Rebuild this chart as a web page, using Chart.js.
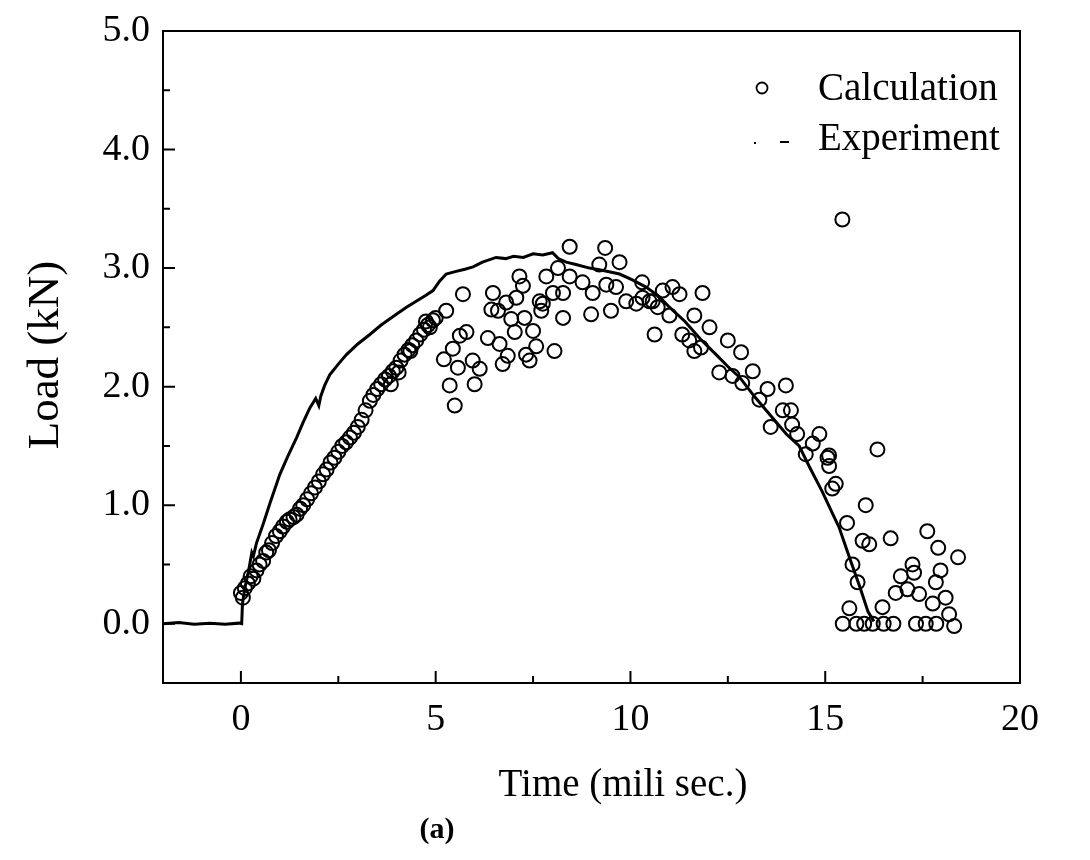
<!DOCTYPE html>
<html><head><meta charset="utf-8">
<script src="https://cdn.jsdelivr.net/npm/chart.js@4.4.0/dist/chart.umd.min.js"></script>
<style>html,body{margin:0;padding:0;background:#fff}#wrap{width:1090px;height:860px}</style>
</head><body><div id="wrap"><canvas id="c" width="1090" height="860"></canvas></div>
<script>
// ---- data ----
const expTime = [-2.0,-1.6,-1.2,-0.8,-0.4,-0.05,0.02,0.04,0.10,0.20,0.28,0.32,0.40,0.57,0.75,1.00,1.20,1.43,1.60,1.77,1.92,2.00,2.05,2.15,2.28,2.50,2.71,3.00,3.31,3.60,3.99,4.25,4.50,4.75,4.93,5.10,5.27,5.50,5.75,5.96,6.20,6.55,6.80,7.00,7.25,7.50,7.75,8.00,8.15,8.35,8.60,8.95,9.30,9.72,10.05,10.40,10.74,11.00,11.40,11.80,12.20,12.50,12.80,13.20,13.64,14.00,14.33,14.60,14.93,15.20,15.36,15.62,15.90,16.10,16.25];
const expLoad = [0.00,0.01,-0.005,0.005,-0.005,0.005,0.00,0.17,0.30,0.45,0.60,0.57,0.68,0.84,1.02,1.26,1.41,1.57,1.70,1.82,1.90,1.84,1.92,2.01,2.10,2.19,2.27,2.36,2.44,2.52,2.61,2.67,2.72,2.77,2.81,2.89,2.95,2.97,2.99,3.01,3.05,3.09,3.08,3.10,3.09,3.12,3.11,3.13,3.08,3.05,3.03,3.00,2.98,2.95,2.90,2.84,2.76,2.67,2.55,2.40,2.27,2.17,2.08,1.91,1.74,1.60,1.50,1.32,1.11,0.92,0.81,0.56,0.30,0.10,0.02];

const calcTime = [0.00,0.05,0.10,0.18,0.25,0.32,0.40,0.48,0.57,0.65,0.72,0.80,0.90,1.00,1.08,1.18,1.25,1.35,1.43,1.52,1.60,1.70,1.80,1.90,2.00,2.11,2.20,2.30,2.40,2.50,2.60,2.70,2.80,2.90,3.00,3.10,3.20,3.31,3.40,3.50,3.60,3.70,3.80,3.90,3.99,4.10,4.20,4.30,4.40,4.50,4.60,4.70,4.80,4.93,5.00,4.75,4.85,3.85,4.05,4.35,
5.21,5.27,5.36,5.44,5.49,5.57,5.62,5.70,5.79,5.95,6.00,6.13,6.34,6.43,6.47,6.60,6.64,6.72,6.81,6.85,6.94,7.03,7.07,7.15,7.24,7.28,7.32,7.41,7.50,7.58,7.67,7.71,7.75,7.84,8.01,8.05,8.14,8.27,8.27,8.44,8.44,8.77,8.99,9.03,9.20,9.35,9.38,9.50,9.63,9.72,9.89,10.15,10.31,10.57,10.62,
10.30,10.49,10.70,10.83,11.00,11.08,11.26,11.33,11.51,11.64,11.64,11.81,11.85,12.03,12.28,12.50,12.62,12.84,12.87,13.14,13.31,13.52,13.60,13.91,13.99,14.12,14.15,14.28,14.50,14.68,14.85,15.06,15.10,15.10,15.18,15.27,
15.44,15.56,15.70,15.83,15.62,16.04,15.96,16.13,16.34,16.68,16.47,16.81,16.94,17.11,17.24,17.28,17.41,17.62,17.76,17.84,17.90,17.96,18.09,18.18,18.41,18.31,
15.45,15.80,16.00,16.22,16.50,16.75,17.33,17.58,17.85];
const calcLoad = [0.26,0.22,0.30,0.34,0.40,0.38,0.45,0.50,0.53,0.60,0.62,0.68,0.74,0.78,0.82,0.86,0.88,0.90,0.92,0.97,1.00,1.05,1.10,1.15,1.20,1.26,1.30,1.36,1.40,1.45,1.50,1.53,1.57,1.61,1.66,1.72,1.80,1.88,1.93,1.98,2.02,2.06,2.09,2.13,2.16,2.22,2.27,2.31,2.35,2.39,2.44,2.48,2.52,2.56,2.58,2.55,2.50,2.02,2.12,2.30,
2.23,2.64,2.01,2.32,1.84,2.16,2.43,2.78,2.46,2.22,2.02,2.15,2.41,2.65,2.79,2.64,2.36,2.19,2.71,2.26,2.57,2.46,2.75,2.93,2.85,2.58,2.27,2.22,2.47,2.34,2.72,2.64,2.70,2.93,2.79,2.30,3.00,2.79,2.58,3.18,2.93,2.88,2.61,2.79,3.03,3.17,2.86,2.64,2.84,3.05,2.72,2.70,2.75,2.72,2.44,
2.88,2.72,2.67,2.81,2.60,2.84,2.78,2.44,2.39,2.60,2.30,2.33,2.79,2.50,2.12,2.39,2.09,2.29,2.03,2.13,1.89,1.98,1.66,1.80,2.01,1.80,1.68,1.60,1.43,1.52,1.60,1.40,1.42,1.33,1.14,1.18,
3.41,0.85,0.50,0.35,0.13,1.00,0.70,0.67,1.47,0.72,0.14,0.26,0.40,0.29,0.50,0.43,0.25,0.78,0.17,0.35,0.64,0.45,0.22,0.08,0.56,-0.02,
0.00,0.00,0.00,0.00,0.00,0.00,0.00,0.00,0.00];

const xTicks = [0,5,10,15,20];
const yTicks = [0,1,2,3,4,5];
const xMinor = [-2.5,2.5,7.5,12.5,17.5];
const yMinor = [-0.5,0.5,1.5,2.5,3.5,4.5];

const FONT = '"Liberation Serif", "Times New Roman", serif';

const frame = {
  id: 'frame',
  afterDraw(chart) {
    const {ctx, chartArea: a, scales: {x, y}} = chart;
    ctx.save();
    ctx.strokeStyle = '#000';
    ctx.lineWidth = 2;
    ctx.strokeRect(a.left, a.top, a.right - a.left, a.bottom - a.top);
    ctx.beginPath();
    xTicks.forEach(v => { const p = x.getPixelForValue(v); ctx.moveTo(p, a.bottom); ctx.lineTo(p, a.bottom - 12); });
    xMinor.forEach(v => { if (v <= x.min) return; const p = x.getPixelForValue(v); ctx.moveTo(p, a.bottom); ctx.lineTo(p, a.bottom - 7); });
    yTicks.forEach(v => { const p = y.getPixelForValue(v); ctx.moveTo(a.left, p); ctx.lineTo(a.left + 12, p); });
    yMinor.forEach(v => { if (v <= y.min) return; const p = y.getPixelForValue(v); ctx.moveTo(a.left, p); ctx.lineTo(a.left + 7, p); });
    ctx.stroke();

    ctx.fillStyle = '#000';
    ctx.textAlign = 'center';
    ctx.textBaseline = 'middle';
    ctx.font = '39px ' + FONT;
    ctx.fillText('Time (mili sec.)', 623, 786);
    ctx.font = 'bold 30px ' + FONT;
    ctx.fillText('(a)', 437, 830);
    ctx.save();
    ctx.translate(46, 355);
    ctx.rotate(-Math.PI / 2);
    ctx.font = '45px ' + FONT;
    ctx.fillText('Load (kN)', 0, 0);
    ctx.restore();

    // legend
    const ds = chart.data.datasets;
    ctx.textAlign = 'left';
    ctx.font = '39px ' + FONT;
    ctx.lineWidth = 1.8;
    ctx.beginPath();
    ctx.arc(762, 88, 5.5, 0, Math.PI * 2);
    ctx.stroke();
    ctx.fillText(ds[1].label, 818, 90);
    ctx.fillRect(754, 142, 2, 2);
    ctx.fillRect(780, 141, 9, 2);
    ctx.fillText(ds[0].label, 818, 140);
    ctx.restore();
  }
};

new Chart(document.getElementById('c'), {
  type: 'scatter',
  data: {
    datasets: [
      {
        type: 'line',
        label: 'Experiment',
        data: expTime.map((t, i) => ({x: t, y: expLoad[i]})),
        borderColor: '#000',
        borderWidth: 3,
        pointRadius: 0,
        tension: 0,
        fill: false
      },
      {
        label: 'Calculation',
        data: calcTime.map((t, i) => ({x: t, y: calcLoad[i]})),
        pointStyle: 'circle',
        pointRadius: 7,
        pointBorderWidth: 2,
        borderColor: '#000',
        backgroundColor: 'rgba(0,0,0,0)',
        pointBackgroundColor: 'rgba(0,0,0,0)'
      }
    ]
  },
  options: {
    responsive: false,
    animation: false,
    devicePixelRatio: 1,
    layout: {padding: {left: 0, top: 31, right: 70, bottom: 0}},
    plugins: {legend: {display: false}, tooltip: {enabled: false}},
    scales: {
      x: {
        type: 'linear', min: -2, max: 20,
        grid: {display: false, drawTicks: false},
        border: {display: false},
        afterBuildTicks: s => { s.ticks = xTicks.map(v => ({value: v})); },
        afterFit: s => { s.height = 177; s.paddingLeft = 0; s.paddingRight = 0; },
        ticks: {color: '#000', padding: 14, maxRotation: 0, font: {family: FONT, size: 38}, callback: v => String(v)}
      },
      y: {
        type: 'linear', min: -0.5, max: 5.0,
        grid: {display: false, drawTicks: false},
        border: {display: false},
        afterBuildTicks: s => { s.ticks = yTicks.map(v => ({value: v})); },
        afterFit: s => { s.width = 163; s.paddingTop = 0; s.paddingBottom = 0; },
        ticks: {color: '#000', padding: 13, font: {family: FONT, size: 38}, callback: v => Number(v).toFixed(1)}
      }
    }
  },
  plugins: [frame]
});
</script>
</body></html>
